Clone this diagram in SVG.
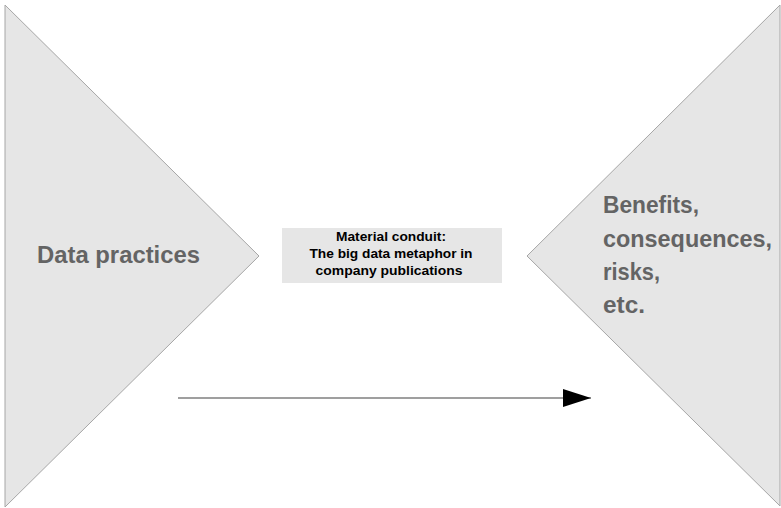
<svg xmlns="http://www.w3.org/2000/svg" width="781" height="508" viewBox="0 0 781 508">
<style>
.tri{fill:#e6e6e6;stroke:#a6a6a6;stroke-width:1}
.big{font-family:"Liberation Sans",Arial,sans-serif;font-weight:bold;font-size:24px;fill:#646464}
.small{font-family:"Liberation Sans",Arial,sans-serif;font-weight:bold;font-size:12.5px;fill:#000;text-anchor:middle}
</style>
<defs>
<marker id="arr" markerWidth="28" markerHeight="18" refX="28" refY="9" orient="auto" markerUnits="userSpaceOnUse" viewBox="0 0 28 18">
<path d="M0,0 L28,9 L0,18 Z" fill="#000"/>
</marker>
</defs>
<rect width="781" height="508" fill="#fff"/>
<g id="left">
<polygon class="tri" points="5,5 259,256 5,507"/>
<text class="big" x="37" y="263" textLength="163" lengthAdjust="spacingAndGlyphs">Data practices</text>
</g>
<g id="right">
<polygon class="tri" points="780,5 527,256 780,506"/>
<text class="big" x="603" y="213" textLength="96" lengthAdjust="spacingAndGlyphs">Benefits,</text>
<text class="big" x="603" y="247" textLength="169" lengthAdjust="spacingAndGlyphs">consequences,</text>
<text class="big" x="603" y="280" textLength="57" lengthAdjust="spacingAndGlyphs">risks,</text>
<text class="big" x="603" y="313" textLength="42" lengthAdjust="spacingAndGlyphs">etc.</text>
</g>
<g id="middle">
<rect x="282" y="228" width="220" height="55" fill="#e6e6e6"/>
<text class="small" x="391" y="241" textLength="110" lengthAdjust="spacingAndGlyphs">Material conduit:</text>
<text class="small" x="391" y="258" textLength="163" lengthAdjust="spacingAndGlyphs">The big data metaphor in</text>
<text class="small" x="389" y="275" textLength="147" lengthAdjust="spacingAndGlyphs">company publications</text>
</g>
<g id="connectors">
<line x1="178" y1="398" x2="591" y2="398" stroke="#404040" stroke-width="1.2" marker-end="url(#arr)"/>
</g>
</svg>
